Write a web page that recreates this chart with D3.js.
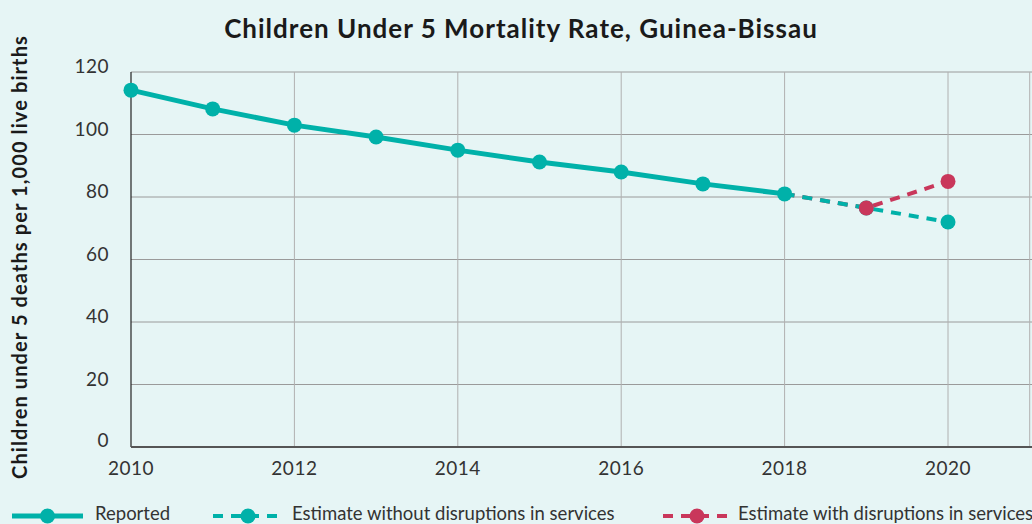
<!DOCTYPE html>
<html>
<head>
<meta charset="utf-8">
<script src="https://cdn.jsdelivr.net/npm/d3@7"></script>
<style>
  body { margin: 0; background: #e6f5f5; }
  svg { display: block; font-family: "Lato", "DejaVu Sans", sans-serif; }
</style>
</head>
<body>
<div id="chart"></div>
<script>
// chart data
const years = [2010, 2011, 2012, 2013, 2014, 2015, 2016, 2017, 2018];
const reported = [114.2, 108.2, 103, 99.2, 95, 91.2, 88, 84.2, 81];
const estYears = [2018, 2019, 2020];
const estWithout = [81, 76.5, 72];
const estWith = [81, 76.5, 85];
const estWithYears = [2019, 2020];
const estWithVals = [76.5, 85];
const yTicks = [0, 20, 40, 60, 80, 100, 120];
const xTicks = [2010, 2012, 2014, 2016, 2018, 2020];

const width = 1032, height = 524;
const margin = {top: 72, right: 2, bottom: 77, left: 131};
const teal = "#00b1a9", red = "#c9375b";

const svg = d3.select("#chart")
  .append("svg")
  .attr("width", width)
  .attr("height", height)
  .attr("viewBox", [0, 0, width, height]);

svg.append("rect").attr("width", width).attr("height", height).attr("fill", "#e6f5f5");

// scales
let x = d3.scaleLinear()
          .domain([2010, 2021])
          .range([margin.left, margin.left + 11 * 81.7]);
let y = d3.scaleLinear()
          .domain([0, 120])
          .range([height - margin.bottom, margin.top]);

// grid
svg.append("g")
   .selectAll("line.h")
   .data(yTicks.slice(1))
   .enter().append("line")
     .attr("x1", margin.left).attr("x2", width)
     .attr("y1", d => y(d)).attr("y2", d => y(d))
     .attr("stroke", "#9a9a9a").attr("stroke-width", 1);

svg.append("g")
   .selectAll("line.v")
   .data(xTicks.slice(1).concat([2021]))
   .enter().append("line")
     .attr("x1", d => x(d)).attr("x2", d => x(d))
     .attr("y1", y(120)).attr("y2", y(0))
     .attr("stroke", "#b0b0b0").attr("stroke-width", 1);

// axes
svg.append("line")
   .attr("x1", x(2010)).attr("x2", x(2010))
   .attr("y1", y(120)).attr("y2", y(0))
   .attr("stroke", "#222").attr("stroke-width", 1.2);
svg.append("line")
   .attr("x1", x(2010)).attr("x2", width)
   .attr("y1", y(0)).attr("y2", y(0))
   .attr("stroke", "#555").attr("stroke-width", 2);

svg.append("g")
   .selectAll("text")
   .data(yTicks)
   .enter().append("text")
     .attr("x", margin.left - 22)
     .attr("y", d => y(d) + (d === 0 ? -0.5 : 1))
     .attr("text-anchor", "end")
     .attr("fill", "#333")
     .attr("font-size", "19px")
     .attr("letter-spacing", "0.5px")
     .text(d => d);

svg.append("g")
   .selectAll("text")
   .data(xTicks)
   .enter().append("text")
     .attr("x", d => x(d))
     .attr("y", y(0) + 28)
     .attr("text-anchor", "middle")
     .attr("fill", "#333")
     .attr("font-size", "19px")
     .attr("letter-spacing", "0.5px")
     .text(d => d);

// title + y label
svg.append("text")
   .attr("x", 521).attr("y", 38)
   .attr("text-anchor", "middle")
   .attr("font-size", "26px").attr("font-weight", "bold").attr("fill", "#1a1a1a")
   .attr("letter-spacing", "1px")
   .text("Children Under 5 Mortality Rate, Guinea-Bissau");

svg.append("text")
   .attr("transform", "translate(27, 257) rotate(-90)")
   .attr("text-anchor", "middle")
   .attr("font-size", "20px").attr("font-weight", "bold").attr("fill", "#1a1a1a")
   .attr("letter-spacing", "1.1px")
   .text("Children under 5 deaths per 1,000 live births");

// lines
const line = d3.line().x(d => x(d[0])).y(d => y(d[1]));

svg.append("path")
   .datum(estYears.map((d, i) => [d, estWith[i]]))
   .attr("d", line).attr("fill", "none")
   .attr("stroke", red).attr("stroke-width", 4).attr("stroke-dasharray", "10,8");

svg.append("path")
   .datum(estYears.map((d, i) => [d, estWithout[i]]))
   .attr("d", line).attr("fill", "none")
   .attr("stroke", teal).attr("stroke-width", 4).attr("stroke-dasharray", "10,8");

svg.append("path")
   .datum(years.map((d, i) => [d, reported[i]]))
   .attr("d", line).attr("fill", "none")
   .attr("stroke", teal).attr("stroke-width", 5);

// points
svg.append("g").selectAll("circle")
   .data(years.map((d, i) => [d, reported[i]]))
   .enter().append("circle")
     .attr("cx", d => x(d[0])).attr("cy", d => y(d[1]))
     .attr("r", 7.5).style("fill", teal);

svg.append("g").selectAll("circle")
   .data(estYears.slice(1).map((d, i) => [d, estWithout[i + 1]]))
   .enter().append("circle")
     .attr("cx", d => x(d[0])).attr("cy", d => y(d[1]))
     .attr("r", 7.5).style("fill", teal);

svg.append("g").selectAll("circle")
   .data(estWithYears.map((d, i) => [d, estWithVals[i]]))
   .enter().append("circle")
     .attr("cx", d => x(d[0])).attr("cy", d => y(d[1]))
     .attr("r", 7.5).style("fill", red);

// legend
const legend = [
  {label: "Reported", color: teal, dash: null, x0: 12, x1: 83, tx: 95},
  {label: "Estimate without disruptions in services", color: teal, dash: "10,8", x0: 213, x1: 283, tx: 292},
  {label: "Estimate with disruptions in services", color: red, dash: "10,8", x0: 663, x1: 731, tx: 738}
];
const lg = svg.append("g").selectAll("g").data(legend).enter().append("g");
lg.append("line")
  .attr("x1", d => d.x0).attr("x2", d => d.x1)
  .attr("y1", 516).attr("y2", 516)
  .attr("stroke", d => d.color).attr("stroke-width", d => d.dash ? 4 : 5)
  .attr("stroke-dasharray", d => d.dash);
lg.append("circle")
  .attr("cx", d => (d.x0 + d.x1) / 2).attr("cy", 516).attr("r", 7.5)
  .style("fill", d => d.color);
lg.append("text")
  .attr("x", d => d.tx).attr("y", 520)
  .attr("font-size", "18.5px").attr("fill", "#333")
  .text(d => d.label);
</script>
</body>
</html>
